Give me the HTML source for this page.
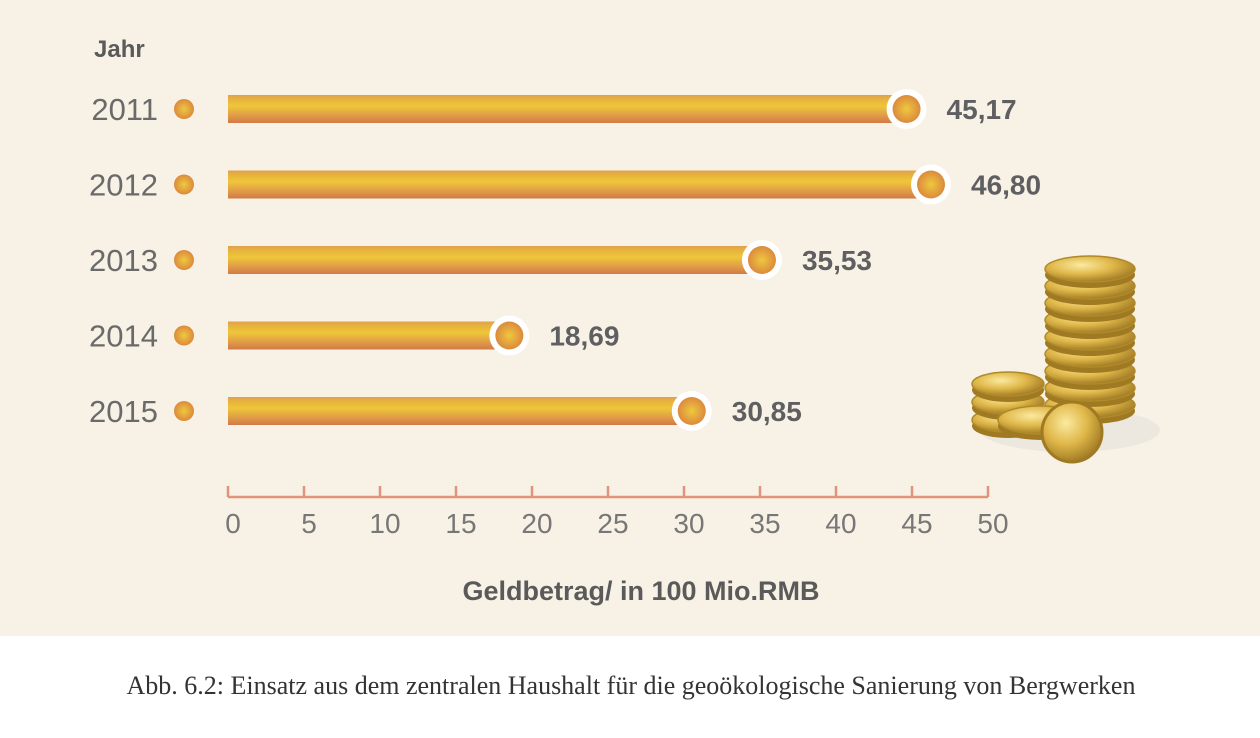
<!DOCTYPE html>
<html><head><meta charset="utf-8"><style>
body{margin:0;width:1260px;height:738px;background:#fff;overflow:hidden}
svg{display:block}
</style></head><body>
<svg width="1260" height="738" id="c">
<defs>
<linearGradient id="bg" x1="0" y1="0" x2="0" y2="1">
<stop offset="0" stop-color="#e0a050"/><stop offset="0.15" stop-color="#e6b33c"/><stop offset="0.4" stop-color="#efc63a"/><stop offset="0.75" stop-color="#df9a48"/><stop offset="1" stop-color="#d27a45"/></linearGradient>
<radialGradient id="dg" cx="0.5" cy="0.5" r="0.5"><stop offset="0" stop-color="#eec840"/><stop offset="1" stop-color="#dc8a3c"/></radialGradient>
<radialGradient id="cg" cx="0.4" cy="0.35" r="0.7"><stop offset="0" stop-color="#fbeaa0"/><stop offset="0.5" stop-color="#e0b84a"/><stop offset="1" stop-color="#9a7420"/></radialGradient>
</defs>
<rect x="0" y="0" width="1260" height="636" fill="#f8f2e6"/>
<text x="94" y="57" font-family="Liberation Sans, sans-serif" font-weight="bold" font-size="24" fill="#5a5a5a">Jahr</text>
<g id="bars"></g>
<g id="axis"></g>
<text x="641" y="600" text-anchor="middle" font-family="Liberation Sans, sans-serif" font-weight="bold" font-size="27" fill="#5a5a5a">Geldbetrag/ in 100 Mio.RMB</text>
<g>
<ellipse cx="1070" cy="430" rx="90" ry="22" fill="#e8e4dc" opacity="0.7"/>
<g id="coins"></g>
</g>
<text x="631" y="694" text-anchor="middle" font-family="Liberation Serif, serif" font-size="26" fill="#333">Abb. 6.2: Einsatz aus dem zentralen Haushalt für die geoökologische Sanierung von Bergwerken</text>
</svg>
<script>
const years=['2011','2012','2013','2014','2015'];
const values=[45.17,46.80,35.53,18.69,30.85];
const valueLabels=['45,17','46,80','35,53','18,69','30,85'];
const ticks=[0,5,10,15,20,25,30,35,40,45,50];
const NS='http://www.w3.org/2000/svg';
const x=v=>229+v*15.0;
const xa=v=>228+v*15.2;
const y=i=>109+i*75.5;
function mk(t,a,p){const e=document.createElementNS(NS,t);for(const k in a)e.setAttribute(k,a[k]);p.appendChild(e);return e;}
const bars=document.getElementById('bars');
years.forEach((yr,i)=>{
 const g=mk('g',{},bars);
 
 
 const t=mk('text',{x:158,y:y(i)+11,'text-anchor':'end','font-family':'Liberation Sans, sans-serif','font-size':31,fill:'#6a6a6a'},g);t.textContent=yr;
 
 
 mk('circle',{cx:184,cy:y(i),r:10,fill:'url(#dg)'},g);
 const r=mk('rect',{x:228,y:y(i)-14,width:x(values[i])-228,height:28,fill:'url(#bg)'},g);
 
 
 mk('circle',{cx:x(values[i]),cy:y(i),r:20,fill:'#fff'},g);
 mk('circle',{cx:x(values[i]),cy:y(i),r:14,fill:'url(#dg)'},g);
 const v=mk('text',{x:x(values[i])+40,y:y(i)+10,'font-family':'Liberation Sans, sans-serif','font-weight':'bold','font-size':28,fill:'#5f5f62'},g);v.textContent=valueLabels[i];
 
 
});
const ax=document.getElementById('axis');


mk('line',{x1:xa(0),x2:xa(50),y1:497,y2:497,stroke:'#e0957a','stroke-width':2.5},ax);
ticks.forEach(t=>{
 mk('line',{x1:xa(t),x2:xa(t),y1:486,y2:497,stroke:'#e0957a','stroke-width':2.5},ax);
 const l=mk('text',{x:xa(t)+5,y:533,'text-anchor':'middle','font-family':'Liberation Sans, sans-serif','font-size':28,fill:'#777'},ax);l.textContent=t;
 
 
});
const cg=document.getElementById('coins');
function coin(cx,cy,rx,ry){mk('ellipse',{cx:cx,cy:cy+6,rx:rx,ry:ry,fill:'#a07a22'},cg);mk('ellipse',{cx:cx,cy:cy,rx:rx,ry:ry,fill:'url(#cg)',stroke:'#b08a2a','stroke-width':1.5},cg);}
[0,1,2].forEach(k=>coin(1008,420-k*18,36,12));
[0,1,2,3,4,5,6,7,8].forEach(k=>coin(1090,405-k*17,45,13));
coin(1040,420,42,14);
mk('ellipse',{cx:1072,cy:432,rx:30,ry:30,fill:'url(#cg)',stroke:'#a07a22','stroke-width':3},cg);
</script>
</body></html>
